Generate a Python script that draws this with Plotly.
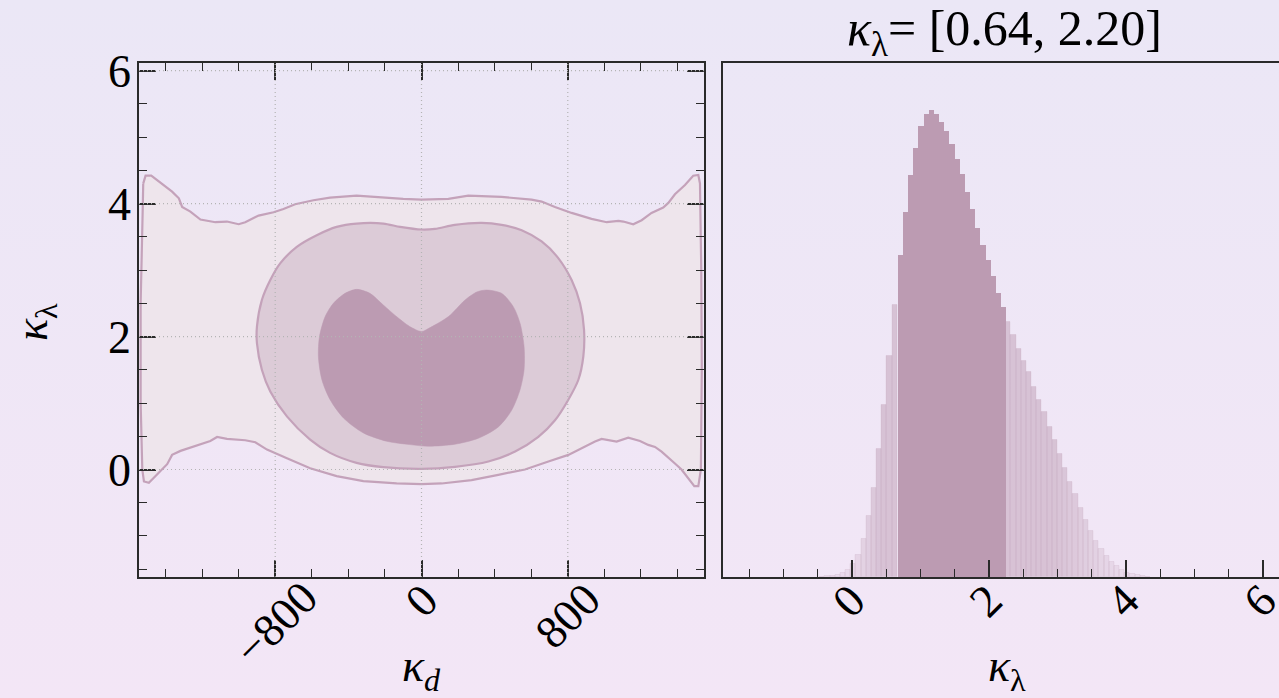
import base64
import plotly.graph_objects as go

# ---------------- data ----------------
# 2D credible-region outlines in the (kappa_d, kappa_lambda) plane
outer_kd = [-1522, -1509, -1478, -1364, -1327, -1309, -1264, -1209, -1127, -1064, -1000, -964,
            -891, -809, -755, -691, -591, -500, -355, -209, -100, 0, 147, 256, 438, 602, 657,
            730, 821, 930, 1013, 1077, 1104, 1158, 1204, 1258, 1322, 1350, 1386, 1441, 1486,
            1514, 1523, 1530, 1533, 1528, 1514, 1492, 1459, 1422, 1386, 1350, 1313, 1277,
            1240, 1195, 1131, 1067, 1031, 985, 949, 876, 803, 694, 566, 420, 274, 110, 0,
            -136, -318, -464, -609, -736, -845, -909, -964, -1064, -1118, -1155, -1209, -1318,
            -1364, -1391, -1445, -1491, -1518, -1527, -1536, -1536, -1524, -1522]
outer_kl = [4.30, 4.42, 4.42, 4.18, 4.08, 3.95, 3.88, 3.76, 3.72, 3.73, 3.69, 3.72,
            3.82, 3.87, 3.92, 3.99, 4.05, 4.09, 4.12, 4.09, 4.07, 4.06, 4.07, 4.12, 4.10, 4.06, 4.03,
            3.95, 3.86, 3.77, 3.72, 3.74, 3.73, 3.69, 3.75, 3.86, 3.94, 4.01, 4.14, 4.28, 4.42,
            4.43, 4.30, 3.00, 1.50, 0.00, -0.25, -0.25, -0.13, 0.00, 0.09, 0.18, 0.27, 0.34,
            0.37, 0.43, 0.48, 0.42, 0.44, 0.46, 0.42, 0.32, 0.22, 0.12, 0.00, -0.08, -0.16, -0.21, -0.22,
            -0.21, -0.175, -0.10, 0.02, 0.17, 0.30, 0.41, 0.44, 0.46, 0.49, 0.43, 0.38, 0.28,
            0.22, 0.08, -0.07, -0.20, -0.18, 0.00, 1.00, 2.50, 4.00, 4.30]

mid_kd = [0, 74, 183, 329, 438, 548, 657, 748, 821, 867, 889, 885, 858, 803, 730, 639, 512,
          366, 183, 0, -209, -355, -500, -609, -736, -827, -873, -900, -900, -873, -827, -773,
          -682, -573, -464, -355, -209, -117, 0]
mid_kl = [3.61, 3.62, 3.68, 3.71, 3.68, 3.60, 3.43, 3.18, 2.85, 2.50, 2.10, 1.70, 1.35, 1.05,
          0.74, 0.49, 0.27, 0.12, 0.04, 0.01, 0.035, 0.10, 0.25, 0.45, 0.80, 1.175, 1.50, 1.90,
          2.15, 2.55, 2.85, 3.10, 3.35, 3.525, 3.65, 3.70, 3.70, 3.65, 3.61]

inner_kd = [0, 37, 147, 238, 302, 356, 438, 502, 539, 561, 561, 539, 493, 420, 311, 183, 37,
            -64, -191, -318, -427, -500, -545, -564, -558, -527, -482, -418, -355, -282, -209,
            -136, -64, 0]
inner_kl = [2.075, 2.12, 2.30, 2.55, 2.67, 2.70, 2.65, 2.45, 2.20, 1.85, 1.50, 1.20, 0.89, 0.64,
            0.47, 0.38, 0.35, 0.375, 0.425, 0.55, 0.775, 1.05, 1.35, 1.70, 2.0, 2.30, 2.50, 2.65,
            2.71, 2.65, 2.475, 2.30, 2.15, 2.075]

# 1D marginal of kappa_lambda (normalised to the peak), in three parts
hist_left_tail = [0.582, 0.473, 0.369, 0.274, 0.191, 0.130, 0.082, 0.048, 0.027, 0.014,
                  0.0086, 0.005, 0.003, 0.0015, 0.0008]          # outward from interval edge
hist_interval = [0.689, 0.781, 0.861, 0.919, 0.966, 0.991, 1.000, 0.991, 0.974, 0.955,
                 0.927, 0.895, 0.863, 0.824, 0.788, 0.746, 0.710, 0.679, 0.644, 0.608, 0.578]
hist_right_tail = [0.545, 0.518, 0.487, 0.462, 0.439, 0.406, 0.379, 0.354, 0.321, 0.294,
                   0.264, 0.234, 0.204, 0.177, 0.147, 0.121, 0.098, 0.076, 0.059, 0.044,
                   0.032, 0.023, 0.016, 0.009, 0.006, 0.004, 0.002, 0.001]
bin_width = 0.0755
interval_edge = 0.662
interval_text = "[0.64, 2.20]"

kd_ticks = [-800, 0, 800]
kd_tick_text = ["\u2212800", "0", "800"]
kl_ticks = [0, 2, 4, 6]
kl_tick_text = ["0", "2", "4", "6"]

# ---------------- styling ----------------
W, H = 1279, 698
FONT = "Liberation Serif"
C_DARK = "#bc9bb2"
C_MID = "#dccbd7"
C_OUT = "#eee5ec"
C_LINE = "#c4a2ba"
AX = "#2a2a2a"
GRID = "#b4b4b4"

def px_x(p):
    return p / W

def px_y(p):
    return (H - p) / H

fig = go.Figure()

fig.add_trace(go.Scatter(x=outer_kd, y=outer_kl, fill="toself", fillcolor=C_OUT, mode="lines",
                         line=dict(color=C_LINE, width=2.2), xaxis="x", yaxis="y",
                         hoverinfo="skip", showlegend=False))
fig.add_trace(go.Scatter(x=mid_kd, y=mid_kl, fill="toself", fillcolor=C_MID, mode="lines",
                         line=dict(color=C_LINE, width=2.2, shape="spline", smoothing=0.8),
                         xaxis="x", yaxis="y", hoverinfo="skip", showlegend=False))
fig.add_trace(go.Scatter(x=inner_kd, y=inner_kl, fill="toself", fillcolor=C_DARK, mode="lines",
                         line=dict(color=C_DARK, width=0.5, shape="spline", smoothing=0.8),
                         xaxis="x", yaxis="y", hoverinfo="skip", showlegend=False))

# histogram bars
n_in = len(hist_interval)
lt_x = [interval_edge - (i + 0.5) * bin_width for i in range(len(hist_left_tail))]
in_x = [interval_edge + (i + 0.5) * bin_width for i in range(n_in)]
rt_x = [interval_edge + (n_in + i + 0.5) * bin_width for i in range(len(hist_right_tail))]

def tail_colors(hs):
    out = []
    for h in hs:
        a = 0.10 + 0.38 * min(1.0, h / 0.3) ** 0.6
        out.append("rgba(188,155,178,%.3f)" % a)
    return out

tail_x = lt_x + rt_x
tail_h = hist_left_tail + hist_right_tail
fig.add_trace(go.Bar(x=tail_x, y=tail_h, width=bin_width, xaxis="x2", yaxis="y2",
                     marker=dict(color=tail_colors(tail_h),
                                 line=dict(color="rgba(188,155,178,0.18)", width=1)),
                     hoverinfo="skip", showlegend=False))
fig.add_trace(go.Bar(x=in_x, y=hist_interval, width=bin_width, xaxis="x2", yaxis="y2",
                     marker=dict(color=C_DARK, line=dict(width=0)),
                     hoverinfo="skip", showlegend=False))

tickfont = dict(family=FONT, size=46, color="black")

x1_range = [-1545, 1545]
y1_range = [-1.617, 6.115]
dom_y = [px_y(577), px_y(63)]

fig.update_layout(
    width=W, height=H,
    margin=dict(l=0, r=0, t=0, b=0, autoexpand=False),
    paper_bgcolor="#efe6f6", plot_bgcolor="rgba(0,0,0,0)",
    barmode="overlay", bargap=0,
    xaxis=dict(domain=[px_x(139), px_x(704)], range=x1_range, anchor="y",
               tickmode="linear", tick0=0, dtick=800, ticks="inside", ticklen=17,
               tickwidth=1.6, tickcolor=AX, showticklabels=False, showline=True,
               linecolor=AX, linewidth=1.8, mirror="allticks", showgrid=False, zeroline=False,
               minor=dict(ticks="inside", ticklen=8, tickwidth=1.3, tickcolor=AX,
                          tick0=0, dtick=200, showgrid=False)),
    yaxis=dict(domain=dom_y, range=y1_range, anchor="x",
               tickmode="array", tickvals=kl_ticks, ticktext=kl_tick_text,
               ticks="inside", ticklen=17, tickwidth=1.6, tickcolor=AX, tickfont=tickfont,
               ticklabelstandoff=-3,
               showline=True, linecolor=AX, linewidth=1.8, mirror="allticks",
               showgrid=False, zeroline=False,
               minor=dict(ticks="inside", ticklen=8, tickwidth=1.3, tickcolor=AX,
                          tick0=0, dtick=0.5, showgrid=False)),
    xaxis2=dict(domain=[px_x(722.5), 1.0], range=[-1.89, 6.238], anchor="y2",
                tickmode="linear", tick0=0, dtick=2, ticks="inside", ticklen=17,
                tickwidth=1.6, tickcolor=AX, showticklabels=False, showline=True,
                linecolor=AX, linewidth=1.8, mirror=True, showgrid=False, zeroline=False,
                minor=dict(ticks="inside", ticklen=8, tickwidth=1.3, tickcolor=AX,
                           tick0=0, dtick=0.5, showgrid=False)),
    yaxis2=dict(domain=dom_y, range=[0, 1.1], anchor="x2", showticklabels=False,
                ticks="", showline=True, linecolor=AX, linewidth=1.8, mirror=False,
                showgrid=False, zeroline=False),
)

# background gradient
svg = ('<svg xmlns="http://www.w3.org/2000/svg" width="%d" height="%d" preserveAspectRatio="none">'
       '<defs><linearGradient id="g" x1="0" y1="0" x2="0" y2="1">'
       '<stop offset="0" stop-color="#ebe7f6"/><stop offset="1" stop-color="#f3e6f6"/>'
       '</linearGradient></defs><rect width="100%%" height="100%%" fill="url(#g)"/></svg>') % (W, H)
src = "data:image/svg+xml;base64," + base64.b64encode(svg.encode()).decode()
fig.add_layout_image(dict(source=src, xref="paper", yref="paper", x=0, y=1, sizex=1, sizey=1,
                          xanchor="left", yanchor="top", sizing="stretch", layer="below"))

# dotted grid drawn above the filled regions
for v in kd_ticks:
    fig.add_shape(type="line", xref="x", yref="y", x0=v, x1=v, y0=y1_range[0], y1=y1_range[1],
                  line=dict(color=GRID, width=1.2, dash="1px,3px"), layer="above")
for v in kl_ticks:
    fig.add_shape(type="line", xref="x", yref="y", x0=x1_range[0], x1=x1_range[1], y0=v, y1=v,
                  line=dict(color=GRID, width=1.2, dash="1px,3px"), layer="above")

# rotated x tick labels (centre of each rotated label, in pixels below the axis)
def label_center_y(text):
    return 585 + 8 + 7.5 * len(text)

for v, t in zip(kd_ticks, kd_tick_text):
    fig.add_annotation(x=v, xref="x", y=px_y(label_center_y(t)), yref="paper", text=t,
                       textangle=-45, showarrow=False, xanchor="center", yanchor="middle",
                       font=tickfont)
for v, t in zip(kl_ticks, kl_tick_text):
    fig.add_annotation(x=v, xref="x2", y=px_y(label_center_y(t)), yref="paper", text=t,
                       textangle=-45, showarrow=False, xanchor="center", yanchor="middle",
                       xshift=-3, font=tickfont)

# axis titles and panel title
fig.add_annotation(x=0, xref="x", y=px_y(669), yref="paper", text="<i>κ</i><sub><i>d</i></sub>",
                   showarrow=False, xanchor="center", yanchor="middle", font=tickfont)
fig.add_annotation(x=px_x(1007), xref="paper", y=px_y(669), yref="paper", text="<i>κ</i><sub>λ</sub>",
                   showarrow=False, xanchor="center", yanchor="middle", font=tickfont)
fig.add_annotation(x=px_x(35), xref="paper", y=px_y(322), yref="paper", text="<i>κ</i><sub>λ</sub>",
                   textangle=-90, showarrow=False, xanchor="center", yanchor="middle", font=tickfont)
fig.add_annotation(x=px_x(1004), xref="paper", y=px_y(32), yref="paper",
                   text="<i>κ</i><sub>λ</sub>= " + interval_text,
                   showarrow=False, xanchor="center", yanchor="middle",
                   font=dict(family=FONT, size=50, color="black"))

fig.write_html("out.html")
